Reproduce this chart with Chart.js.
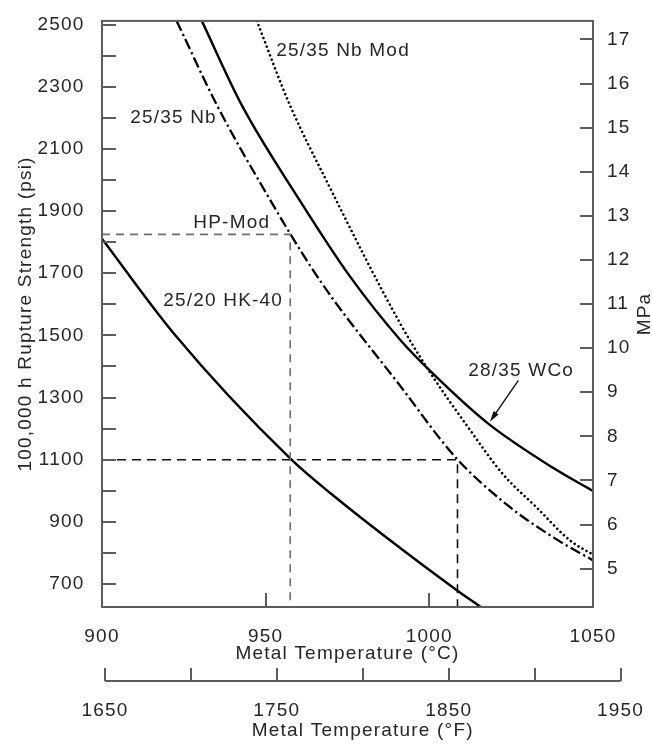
<!DOCTYPE html>
<html>
<head>
<meta charset="utf-8">
<script src="https://cdn.jsdelivr.net/npm/chart.js@4.4.1/dist/chart.umd.min.js"></script>
<style>
  html, body { margin: 0; padding: 0; background: #ffffff; }
  #wrap { position: relative; width: 652px; height: 746px; }
  #wrap canvas { position: absolute; left: 0; top: 0; }
</style>
</head>
<body>
<div id="wrap">
  <canvas id="main" width="652" height="746"></canvas>
  <canvas id="fahr" width="652" height="746"></canvas>
</div>
<script>
// 100,000 h rupture strength (psi) against metal temperature (°C)
const hk40Temp  = [900, 921.8, 957.4, 969.7, 1008.4, 1015.6];
const hk40Psi   = [1811, 1508, 1105, 993, 680, 627];

const hpModTemp = [922.8, 935.1, 950.3, 962.5, 970.7, 991.0, 1007.8, 1023.6, 1037.9, 1050];
const hpModPsi  = [2512, 2241, 1955, 1742, 1615, 1339, 1110, 956, 850, 776];

const wcoTemp   = [930.5, 942.7, 960.5, 975.8, 991.0, 1001.2, 1018.0, 1037.9, 1050];
const wcoPsi    = [2512, 2241, 1933, 1689, 1487, 1376, 1216, 1073, 999];

const nbModTemp = [947.3, 957.4, 968.6, 991.0, 1000.2, 1011.4, 1022.6, 1032.8, 1043.0, 1050];
const nbModPsi  = [2512, 2241, 1997, 1540, 1381, 1211, 1052, 946, 840, 795];

// reading guides: strength level (psi) and the temperature where it meets the HP-Mod curve
const guidePsi  = [1825, 1100];
const guideTemp = [957.5, 1008.6];

// axes
const tempCTicks  = [900, 950, 1000, 1050];
const tempFTicks  = [1650, 1700, 1750, 1800, 1850, 1900, 1950];
const tempFLabels = [1650, 1750, 1850, 1950];
const psiTicks    = [700, 800, 900, 1000, 1100, 1200, 1300, 1400, 1500, 1600, 1700, 1800, 1900, 2000, 2100, 2200, 2300, 2400, 2500];
const psiLabels   = [700, 900, 1100, 1300, 1500, 1700, 1900, 2100, 2300, 2500];
const mpaTicks    = [5, 6, 7, 8, 9, 10, 11, 12, 13, 14, 15, 16, 17];

const psiMin = 626, psiMax = 2512;
const mpaMin = 4.13, mpaMax = 17.42;

// curve names and the WCo pointer, placed in data units
const curveLabels = [
  { text: '25/35 Nb Mod', x: 953.2,  y: 2415 },
  { text: '25/35 Nb',     x: 908.6,  y: 2201 },
  { text: 'HP-Mod',       x: 927.9,  y: 1864 },
  { text: '25/20 HK-40',  x: 918.7,  y: 1610 },
  { text: '28/35 WCo',    x: 1011.9, y: 1387 }
];
const wcoPointer = { from: { x: 1027.2, y: 1355 }, to: { x: 1018.5, y: 1222 } };

const FONT = '"Liberation Sans", Arial, Helvetica, sans-serif';
const TEXT = '#262626';
const AXIS = '#5c5c5c';
const tickFont = { family: FONT, size: 19 };

const pts = (xs, ys) => xs.map((x, i) => ({ x, y: ys[i] }));
const fixedTicks = list => scale => { scale.ticks = list.map(v => ({ value: v })); };

function inwardTicks(ctx, scale, values, len, side) {
  ctx.save();
  ctx.strokeStyle = AXIS;
  ctx.lineWidth = 2;
  ctx.beginPath();
  values.forEach(v => {
    const p = Math.round(scale.getPixelForValue(v));
    if (side === 'bottom') { ctx.moveTo(p, scale.top); ctx.lineTo(p, scale.top - len); }
    if (side === 'left')   { ctx.moveTo(scale.right, p); ctx.lineTo(scale.right + len, p); }
    if (side === 'right')  { ctx.moveTo(scale.left, p); ctx.lineTo(scale.left - len, p); }
  });
  ctx.stroke();
  ctx.restore();
}

const spacing = {
  id: 'spacing',
  beforeDraw(chart) { if ('letterSpacing' in chart.ctx) chart.ctx.letterSpacing = '1.2px'; }
};

const frame = {
  id: 'frame',
  afterDraw(chart) {
    const { ctx, chartArea: a, scales } = chart;
    ctx.save();
    ctx.strokeStyle = AXIS;
    ctx.lineWidth = 2;
    ctx.strokeRect(a.left, a.top, a.right - a.left, a.bottom - a.top);
    ctx.restore();
    inwardTicks(ctx, scales.x, tempCTicks, 14, 'bottom');
    inwardTicks(ctx, scales.y, psiTicks, 14, 'left');
    inwardTicks(ctx, scales.y2, mpaTicks, 13, 'right');

    // curve names
    ctx.save();
    ctx.fillStyle = TEXT;
    ctx.font = '19px ' + FONT;
    ctx.textAlign = 'left';
    ctx.textBaseline = 'middle';
    curveLabels.forEach(l => {
      ctx.fillText(l.text, scales.x.getPixelForValue(l.x), scales.y.getPixelForValue(l.y));
    });

    // pointer from the 28/35 WCo label to its curve
    const x0 = scales.x.getPixelForValue(wcoPointer.from.x), y0 = scales.y.getPixelForValue(wcoPointer.from.y);
    const x1 = scales.x.getPixelForValue(wcoPointer.to.x),   y1 = scales.y.getPixelForValue(wcoPointer.to.y);
    const ang = Math.atan2(y1 - y0, x1 - x0);
    ctx.strokeStyle = '#111';
    ctx.lineWidth = 1.4;
    ctx.beginPath(); ctx.moveTo(x0, y0); ctx.lineTo(x1 - 8 * Math.cos(ang), y1 - 8 * Math.sin(ang)); ctx.stroke();
    ctx.fillStyle = '#111';
    ctx.beginPath();
    ctx.moveTo(x1, y1);
    ctx.lineTo(x1 - 11 * Math.cos(ang) + 3 * Math.sin(ang), y1 - 11 * Math.sin(ang) - 3 * Math.cos(ang));
    ctx.lineTo(x1 - 11 * Math.cos(ang) - 3 * Math.sin(ang), y1 - 11 * Math.sin(ang) + 3 * Math.cos(ang));
    ctx.closePath(); ctx.fill();

    // MPa axis title, reading upward
    ctx.fillStyle = TEXT;
    ctx.translate(chart.width - 2, (a.top + a.bottom) / 2);
    ctx.rotate(-Math.PI / 2);
    ctx.textAlign = 'center';
    ctx.textBaseline = 'alphabetic';
    ctx.fillText('MPa', 0, 0);
    ctx.restore();
  }
};

const curve = (label, xs, ys, extra) => Object.assign({
  label, data: pts(xs, ys), borderColor: '#000', borderWidth: 2.4,
  pointRadius: 0, fill: false, cubicInterpolationMode: 'monotone'
}, extra);

const guide = (i, color, dash) => ({
  label: 'guide ' + guidePsi[i],
  data: [{ x: tempCTicks[0], y: guidePsi[i] }, { x: guideTemp[i], y: guidePsi[i] }, { x: guideTemp[i], y: psiMin }],
  borderColor: color, borderWidth: 1.6, borderDash: dash, pointRadius: 0, fill: false, tension: 0
});

new Chart(document.getElementById('main'), {
  type: 'line',
  data: {
    datasets: [
      guide(0, '#6e6e6e', [8, 6]),
      guide(1, '#111111', [9, 6]),
      curve('25/20 HK-40', hk40Temp, hk40Psi),
      curve('HP-Mod', hpModTemp, hpModPsi, { borderDash: [11, 3.5, 2.2, 3.5], borderWidth: 2.3 }),
      curve('28/35 WCo', wcoTemp, wcoPsi),
      curve('25/35 Nb Mod', nbModTemp, nbModPsi, { borderDash: [0.01, 4.6], borderCapStyle: 'round', borderWidth: 2.6 })
    ]
  },
  options: {
    responsive: false,
    animation: false,
    devicePixelRatio: 1,
    layout: { padding: { top: 15, left: 0, right: 0, bottom: 79 } },
    plugins: { legend: { display: false }, tooltip: { enabled: false } },
    scales: {
      x: {
        type: 'linear', position: 'bottom', min: 900, max: 1050,
        afterBuildTicks: fixedTicks(tempCTicks),
        afterFit: s => { s.height = 60; },
        grid: { display: false }, border: { display: false },
        ticks: { font: tickFont, color: TEXT, padding: 10, autoSkip: false, maxRotation: 0, callback: v => String(v) },
        title: { display: true, text: 'Metal Temperature (°C)', color: TEXT, font: tickFont, padding: { top: 0, bottom: 1.6 } }
      },
      y: {
        type: 'linear', position: 'left', min: psiMin, max: psiMax,
        afterBuildTicks: fixedTicks(psiTicks),
        afterFit: s => { s.width = 102; },
        grid: { display: false }, border: { display: false },
        ticks: { font: tickFont, color: TEXT, padding: 9.5, autoSkip: false,
                 callback: v => psiLabels.includes(v) ? String(v) : '' },
        title: { display: true, text: '100,000 h Rupture Strength (psi)', color: TEXT, font: tickFont, padding: { top: 14, bottom: 0 } }
      },
      y2: {
        type: 'linear', position: 'right', min: mpaMin, max: mpaMax,
        afterBuildTicks: fixedTicks(mpaTicks),
        afterFit: s => { s.width = 59; },
        grid: { display: false }, border: { display: false },
        ticks: { font: tickFont, color: TEXT, padding: 6, autoSkip: false, callback: v => String(v) }
      }
    }
  },
  plugins: [spacing, frame]
});

// Fahrenheit scale under the Celsius axis
const fahrFrame = {
  id: 'fahrFrame',
  afterDraw(chart) {
    const { ctx, chartArea: a, scales } = chart;
    ctx.save();
    ctx.strokeStyle = AXIS;
    ctx.lineWidth = 2;
    ctx.beginPath(); ctx.moveTo(a.left, a.bottom); ctx.lineTo(a.right, a.bottom); ctx.stroke();
    ctx.restore();
    inwardTicks(ctx, scales.x, tempFTicks, 13, 'bottom');
  }
};

new Chart(document.getElementById('fahr'), {
  type: 'line',
  data: { datasets: [] },
  options: {
    responsive: false,
    animation: false,
    devicePixelRatio: 1,
    layout: { padding: { top: 600, left: 105, right: 29.3, bottom: 0 } },
    plugins: { legend: { display: false }, tooltip: { enabled: false } },
    scales: {
      x: {
        type: 'linear', position: 'bottom', min: 1650, max: 1950,
        afterBuildTicks: fixedTicks(tempFTicks),
        afterFit: s => { s.height = 65; },
        grid: { display: false }, border: { display: false },
        ticks: { font: tickFont, color: TEXT, padding: 10.3, autoSkip: false, maxRotation: 0,
                 callback: v => tempFLabels.includes(v) ? String(v) : '' },
        title: { display: true, text: 'Metal Temperature (°F)', color: TEXT, font: tickFont, padding: { top: 0, bottom: 4.2 } }
      },
      y: { display: false, min: 0, max: 1 }
    }
  },
  plugins: [spacing, fahrFrame]
});
</script>
</body>
</html>
